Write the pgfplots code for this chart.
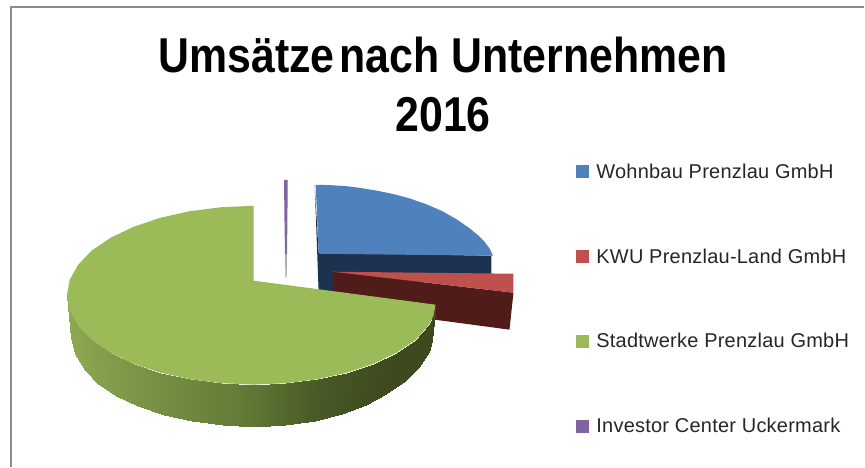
\documentclass[border=0pt]{standalone}
\usepackage{fontspec}
\setmainfont{Liberation Sans}
\newfontfamily\titlefont[FakeStretch=0.875]{Liberation Sans}
\newfontfamily\legendfont[LetterSpace=1.2]{Liberation Sans}
\usepackage{pgfplots}
\pgfplotsset{compat=1.18}
\definecolor{wohnbau}{RGB}{79,129,189}
\definecolor{kwu}{RGB}{192,80,77}
\definecolor{stadtwerke}{RGB}{155,187,89}
\definecolor{investor}{RGB}{128,100,162}
\begin{document}
\begin{tikzpicture}
\begin{axis}[
  width=865pt,height=467pt,scale only axis,
  xmin=0,xmax=865,ymin=0,ymax=467,y dir=reverse,
  hide axis,clip=false,
  point meta min=0,point meta max=1,
  colormap={greenside}{rgb255(0cm)=(141,170,82) rgb255(1cm)=(120,147,70) rgb255(2cm)=(100,125,56) rgb255(3cm)=(72,90,38) rgb255(4cm)=(62,74,30)},
  legend style={at={(axis cs:577,164)},anchor=north west,draw=none,fill=none,
    inner sep=0pt,outer sep=0pt,row sep=68.9pt,text=black!85,
    font=\legendfont\fontsize{20}{22}\selectfont,nodes={anchor=west,inner sep=0pt,outer sep=0pt},
    /tikz/every odd column/.append style={column sep=7pt}},
  legend cell align=left,
  legend image code/.code={\fill[#1] (0pt,-6.5pt) rectangle (13pt,6.5pt);},
]
\path (axis cs:0,0) rectangle (axis cs:865,467);
% frame
\draw[color=black!45,line width=1.8pt] (axis cs:11,467) -- (axis cs:11,7) -- (axis cs:865,7);
% Wohnbau: side, then top
\addplot[fill={rgb,255:red,28;green,50;blue,78},draw=none,forget plot] coordinates {(315,185) (319,253) (492,256) (492,276) (319,293)} --cycle;
\addplot[fill=wohnbau,draw=none] coordinates {
(316,185) (330,185.3) (345,186.2) (360,188) (377,190.8) (394,194.3) (410,198.6) (427,204.5) (443,211.5) (457,219.5)
(470,228.5) (478,235) (485,242) (490,248.5) (493.5,256) (319,254)} --cycle;
% KWU
\addplot[fill={rgb,255:red,79;green,28;blue,26},draw=none,forget plot] coordinates {(333,272) (514,293) (510,330) (435,320) (333,300)} --cycle;
\addplot[fill=kwu,draw=none] coordinates {(333,272) (514,274) (514,293)} --cycle;
% Stadtwerke: rim with a shade, then top
\addplot[surf,shader=interp,mesh/cols=20,point meta=explicit,forget plot] table[meta=m] {
x y m
67 295.5 0
69.8 311 0.02
78.3 326 0.05
92 340.3 0.1
110.8 353 0.16
133.8 364 0.22
160.5 373 0.3
190 379.6 0.38
221.5 383.6 0.47
254 385 0.55
286.5 383.6 0.65
318 379.6 0.75
347.5 373 0.85
374.2 364 0.95
397.2 353 1
416 340.3 1
429.5 325 1
434 316 1
435.5 310 1
436 305 1
71 338 0
75 354 0.02
84.9 370.4 0.05
98.1 384 0.1
116.1 396.3 0.16
138.3 406.9 0.22
164 415.5 0.3
192.4 421.8 0.38
222.8 425.7 0.47
254 427 0.55
285.2 425.7 0.65
315.6 421.8 0.75
342 414.5 0.85
366 405 0.95
386 394 1
405 381 1
419 367 1
429 352 1
432 340 1
433 323 1
};
\addplot[fill=stadtwerke,draw=none] coordinates {
(254,206) (221.5,207.4) (190,211.4) (160.5,218) (133.8,227) (110.8,238) (92,250.7) (78.3,265) (69.8,280) (67,295.5)
(69.8,311) (78.3,326) (92,340.3) (110.8,353) (133.8,364) (160.5,373) (190,379.6) (221.5,383.6) (254,385)
(286.5,383.6) (318,379.6) (347.5,373) (374.2,364) (397.2,353) (416,340.3) (429.5,325) (434,316) (436,305) (254,281)} --cycle;
% Investor: thin sliver, fading towards the centre
\addplot[fill=investor,draw=none] coordinates {(284.3,180) (288,180) (287.7,222) (284.8,222)} --cycle;
\addplot[fill=investor!70!gray,draw=none,forget plot] coordinates {(284.8,222) (287.7,222) (287.3,255) (285.3,255)} --cycle;
\addplot[fill=gray!65,draw=none,forget plot] coordinates {(285.3,255) (287.3,255) (287,278) (285.8,278)} --cycle;
\legend{Wohnbau Prenzlau GmbH,KWU Prenzlau-Land GmbH,Stadtwerke Prenzlau GmbH,Investor Center Uckermark}
\node[align=center,font=\titlefont\fontsize{49}{59}\selectfont\bfseries,anchor=center] at (axis cs:443.5,84.5) {Umsätze\hspace{5pt}nach Unternehmen\\2016};
\end{axis}
\end{tikzpicture}
\end{document}
